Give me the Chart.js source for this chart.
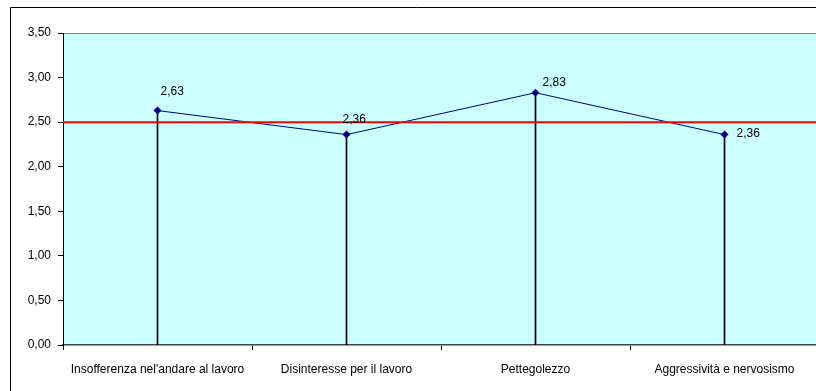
<!DOCTYPE html>
<html>
<head>
<meta charset="utf-8">
<script src="https://cdn.jsdelivr.net/npm/chart.js@4.4.1/dist/chart.umd.min.js"></script>
<style>
  html, body { margin: 0; padding: 0; background: #ffffff; }
  #wrap { width: 816px; height: 391px; overflow: hidden; position: relative; }
  canvas { display: block; }
</style>
</head>
<body>
<div id="wrap"><canvas id="chart" width="823" height="391"></canvas></div>
<script>
// Categories and mean scores
const categories = [
  "Insofferenza nel'andare al lavoro",
  "Disinteresse per il lavoro",
  "Pettegolezzo",
  "Aggressività e nervosismo"
];
const scores = [2.63, 2.36, 2.83, 2.36];
const referenceLevel = 2.5;
const yMin = 0;
const yMax = 3.5;
const yStep = 0.5;

const FONT = "'Liberation Sans', Arial, sans-serif";
const fmt = v => Number(v).toFixed(2).replace('.', ',');

// Page frame, plot background and plot top edge
const framePlugin = {
  id: 'frame',
  beforeDraw(chart) {
    const { ctx, chartArea: a, width, height } = chart;
    ctx.save();
    ctx.fillStyle = '#ffffff';
    ctx.fillRect(0, 0, width, height);
    ctx.strokeStyle = '#000000';
    ctx.lineWidth = 1;
    ctx.beginPath();
    ctx.moveTo(10.5, height);
    ctx.lineTo(10.5, 7.5);
    ctx.lineTo(width, 7.5);
    ctx.stroke();
    ctx.fillStyle = '#CCFFFF';
    ctx.fillRect(a.left, a.top, width - a.left, a.bottom - a.top);
    ctx.strokeStyle = '#808080';
    ctx.beginPath();
    ctx.moveTo(a.left, a.top + 0.5);
    ctx.lineTo(width, a.top + 0.5);
    ctx.stroke();
    ctx.restore();
  }
};

// Horizontal reference line across the plot
const referencePlugin = {
  id: 'referenceLine',
  afterDatasetsDraw(chart, args, opts) {
    const { ctx, chartArea: a, scales, width } = chart;
    const y = scales.y.getPixelForValue(opts.value);
    ctx.save();
    ctx.strokeStyle = opts.color;
    ctx.lineWidth = opts.width;
    ctx.beginPath();
    ctx.moveTo(a.left, y);
    ctx.lineTo(width, y);
    ctx.stroke();
    ctx.restore();
  }
};

// Value labels next to each marker
const valueLabelPlugin = {
  id: 'valueLabels',
  afterDraw(chart, args, opts) {
    const { ctx } = chart;
    const meta = chart.getDatasetMeta(0);
    const data = chart.data.datasets[0].data;
    ctx.save();
    ctx.font = opts.font;
    ctx.fillStyle = opts.color;
    ctx.textAlign = 'left';
    ctx.textBaseline = 'middle';
    meta.data.forEach((pt, i) => {
      const off = opts.offsets[i] || [4, -12];
      ctx.fillText(fmt(data[i]), pt.x + off[0], pt.y + off[1]);
    });
    ctx.restore();
  }
};

new Chart(document.getElementById('chart'), {
  data: {
    labels: categories,
    datasets: [
      {
        type: 'line',
        data: scores,
        borderColor: '#000080',
        borderWidth: 1,
        pointStyle: 'rectRot',
        pointRadius: 4,
        pointBackgroundColor: '#000080',
        pointBorderColor: '#000080',
        pointBorderWidth: 0,
        tension: 0,
        order: 0
      },
      {
        // thin drop lines from each point to the axis
        type: 'bar',
        data: scores,
        backgroundColor: '#000000',
        barThickness: 1,
        order: 1
      }
    ]
  },
  options: {
    responsive: false,
    animation: false,
    devicePixelRatio: 1,
    layout: { padding: { top: 33, left: 0, right: 0, bottom: 0 } },
    plugins: {
      legend: { display: false },
      tooltip: { enabled: false },
      referenceLine: { value: referenceLevel, color: '#FF0000', width: 2 },
      valueLabels: {
        font: `12px ${FONT}`,
        color: '#000000',
        offsets: [[3, -19], [-4, -15], [7, -10], [12, -1]]
      }
    },
    scales: {
      x: {
        type: 'category',
        offset: true,
        grid: { offset: true, drawOnChartArea: false, drawTicks: true, tickLength: 5, color: '#000000' },
        border: { display: true, color: '#444444', width: 1.5 },
        ticks: { color: '#000000', font: { family: FONT, size: 12 }, padding: 12, maxRotation: 0, autoSkip: false },
        afterFit(scale) { scale.height = 46; }
      },
      y: {
        min: yMin,
        max: yMax,
        grid: { drawOnChartArea: false, drawTicks: true, tickLength: 5, color: '#000000' },
        border: { display: true, color: '#000000', width: 1 },
        ticks: {
          stepSize: yStep,
          color: '#000000',
          font: { family: FONT, size: 12 },
          padding: 7,
          callback: v => fmt(v)
        },
        afterFit(scale) { scale.width = 63; }
      }
    }
  },
  plugins: [framePlugin, referencePlugin, valueLabelPlugin]
});
</script>
</body>
</html>
